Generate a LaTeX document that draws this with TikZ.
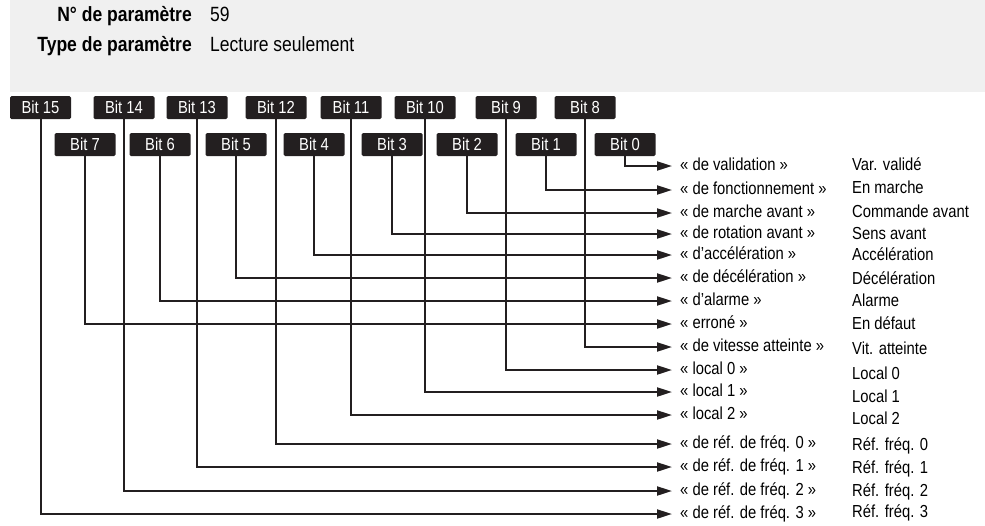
\documentclass[tikz,border=0pt]{standalone}
\usepackage{fontspec}
\setmainfont{Liberation Sans}[FakeStretch=0.85]
\usetikzlibrary{arrows.meta}
\definecolor{panel}{gray}{0.94}
\definecolor{ink}{HTML}{231F20}

\begin{document}
\begin{tikzpicture}[x=1pt,y=-1pt,
    every node/.style={font=\fontsize{17.4}{19}\selectfont},
    head/.style={font=\fontsize{20.6}{22}\selectfont,inner sep=0pt},
    bitbox/.style={fill=ink,text=white,rounded corners=1.5pt,minimum width=61pt,minimum height=23pt,inner sep=0pt},
    sig/.style={anchor=west,inner xsep=8pt,inner ysep=0pt,text height=12.5pt,text depth=3pt},
    state/.style={anchor=west,inner sep=0pt,text height=12.5pt,text depth=3pt},
    link/.style={draw=ink,line width=2pt,-{Triangle[length=15pt,width=9pt]}}]
  \useasboundingbox (0,0) rectangle (985,525);
  % Header
  \fill[panel] (10,0) rectangle (985,92);
  \node[head,anchor=base east,font=\fontsize{20.6}{22}\selectfont\bfseries] (numlbl) at (192,21) {N° de paramètre};
  \node[head,anchor=base west] (numval) at (210,21) {59};
  \node[head,anchor=base east,font=\fontsize{20.6}{22}\selectfont\bfseries] (typelbl) at (192,51) {Type de paramètre};
  \node[head,anchor=base west] (typeval) at (210,51) {Lecture seulement};
  % Upper byte
  \node[bitbox] (b15) at (40.5,107.5) {Bit 15};
  \node[bitbox] (b14) at (124,107.5) {Bit 14};
  \node[bitbox] (b13) at (197,107.5) {Bit 13};
  \node[bitbox] (b12) at (276,107.5) {Bit 12};
  \node[bitbox] (b11) at (351,107.5) {Bit 11};
  \node[bitbox] (b10) at (425,107.5) {Bit 10};
  \node[bitbox] (b9) at (506,107.5) {Bit 9};
  \node[bitbox] (b8) at (585,107.5) {Bit 8};
  % Lower byte
  \node[bitbox] (b7) at (85,144.5) {Bit 7};
  \node[bitbox] (b6) at (160,144.5) {Bit 6};
  \node[bitbox] (b5) at (236,144.5) {Bit 5};
  \node[bitbox] (b4) at (314,144.5) {Bit 4};
  \node[bitbox] (b3) at (392,144.5) {Bit 3};
  \node[bitbox] (b2) at (467,144.5) {Bit 2};
  \node[bitbox] (b1) at (546,144.5) {Bit 1};
  \node[bitbox] (b0) at (625,144.5) {Bit 0};
  % Signal names
  \node[sig] (s0) at (672,166) {« de validation »};
  \node[sig] (s1) at (672,190) {« de fonctionnement »};
  \node[sig] (s2) at (672,213) {« de marche avant »};
  \node[sig] (s3) at (672,234) {« de rotation avant »};
  \node[sig] (s4) at (672,255) {« d’accélération »};
  \node[sig] (s5) at (672,278) {« de décélération »};
  \node[sig] (s6) at (672,301) {« d’alarme »};
  \node[sig] (s7) at (672,324) {« erroné »};
  \node[sig] (s8) at (672,347) {« de vitesse atteinte »};
  \node[sig] (s9) at (672,370) {« local 0 »};
  \node[sig] (s10) at (672,392) {« local 1 »};
  \node[sig] (s11) at (672,415) {« local 2 »};
  \node[sig] (s12) at (672,444) {« de réf. de fréq. 0 »};
  \node[sig] (s13) at (672,467) {« de réf. de fréq. 1 »};
  \node[sig] (s14) at (672,491) {« de réf. de fréq. 2 »};
  \node[sig] (s15) at (672,514) {« de réf. de fréq. 3 »};
  % States when set
  \node[state] (t0) at (852,166) {Var. validé};
  \node[state] (t1) at (852,189) {En marche};
  \node[state] (t2) at (852,213) {Commande avant};
  \node[state] (t3) at (852,235) {Sens avant};
  \node[state] (t4) at (852,256) {Accélération};
  \node[state] (t5) at (852,280) {Décélération};
  \node[state] (t6) at (852,302) {Alarme};
  \node[state] (t7) at (852,325) {En défaut};
  \node[state] (t8) at (852,350) {Vit. atteinte};
  \node[state] (t9) at (852,375) {Local 0};
  \node[state] (t10) at (852,398) {Local 1};
  \node[state] (t11) at (852,420) {Local 2};
  \node[state] (t12) at (852,446) {Réf. fréq. 0};
  \node[state] (t13) at (852,469) {Réf. fréq. 1};
  \node[state] (t14) at (852,492) {Réf. fréq. 2};
  \node[state] (t15) at (852,513) {Réf. fréq. 3};
  % Bit lines
  \draw[link] (b0) |- (s0);
  \draw[link] (b1) |- (s1);
  \draw[link] (b2) |- (s2);
  \draw[link] (b3) |- (s3);
  \draw[link] (b4) |- (s4);
  \draw[link] (b5) |- (s5);
  \draw[link] (b6) |- (s6);
  \draw[link] (b7) |- (s7);
  \draw[link] (b8) |- (s8);
  \draw[link] (b9) |- (s9);
  \draw[link] (b10) |- (s10);
  \draw[link] (b11) |- (s11);
  \draw[link] (b12) |- (s12);
  \draw[link] (b13) |- (s13);
  \draw[link] (b14) |- (s14);
  \draw[link] (b15) |- (s15);
\end{tikzpicture}
\end{document}
